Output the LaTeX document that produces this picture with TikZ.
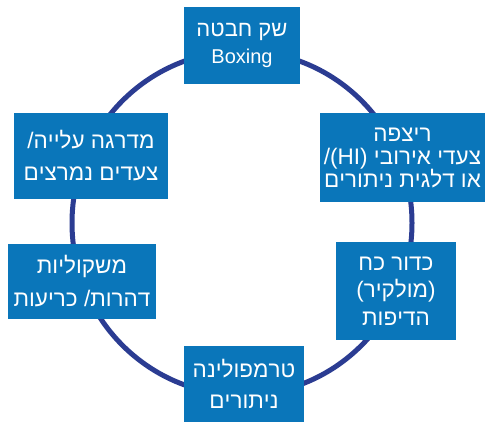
\documentclass[tikz,border=0pt]{standalone}
\usepackage{fontspec}
\setmainfont{Liberation Sans}
\TeXXeTstate=1
\definecolor{boxblue}{HTML}{0A76BA}
\definecolor{ringblue}{HTML}{2B3C92}
\tikzset{
  stepbox/.style={fill=boxblue, text=white, align=center, inner sep=0pt, anchor=center},
}
\newcommand{\fs}[2]{\fontsize{#1}{#2}\selectfont}
\begin{document}
\begin{tikzpicture}[x=1pt,y=-1pt]
\useasboundingbox (0,0) rectangle (489,424);
\fill[white] (0,0) rectangle (489,424);
\draw[ringblue, line width=5pt] (242,223) ellipse [x radius=170, y radius=172];
\node[stepbox, minimum width=116pt, minimum height=77pt, font=\fs{22}{27}] (b1) at (242,45.5)
  {\beginR שק חבטה\endR\\{\fs{20}{27}Boxing}};
\node[stepbox, minimum width=165pt, minimum height=89pt, font=\fs{22.5}{23}] (b2) at (402.5,157.5)
  {\beginR ריצפה\endR\\\beginR צעדי אירובי \beginL(HI)\endL/\endR\\\beginR או דלגית ניתורים\endR};
\node[stepbox, minimum width=120pt, minimum height=98pt, font=\fs{22.5}{27.5}] (b3) at (396,291)
  {\beginR כדור כח\endR\\\beginR (מולקיר)\endR\\\beginR הדיפות\endR};
\node[stepbox, minimum width=120pt, minimum height=76pt, font=\fs{22.5}{31}] (b4) at (244,384)
  {\beginR טרמפולינה\endR\\\beginR ניתורים\endR};
\node[stepbox, minimum width=148pt, minimum height=75pt, font=\fs{22.5}{33}] (b5) at (82,281.5)
  {\beginR משקוליות\endR\\\beginR דהרות/ כריעות\endR};
\node[stepbox, minimum width=154pt, minimum height=86pt, font=\fs{22.5}{32}] (b6) at (91,156)
  {\beginR מדרגה עלייה/\endR\\\beginR צעדים נמרצים\endR};
\end{tikzpicture}
\end{document}
